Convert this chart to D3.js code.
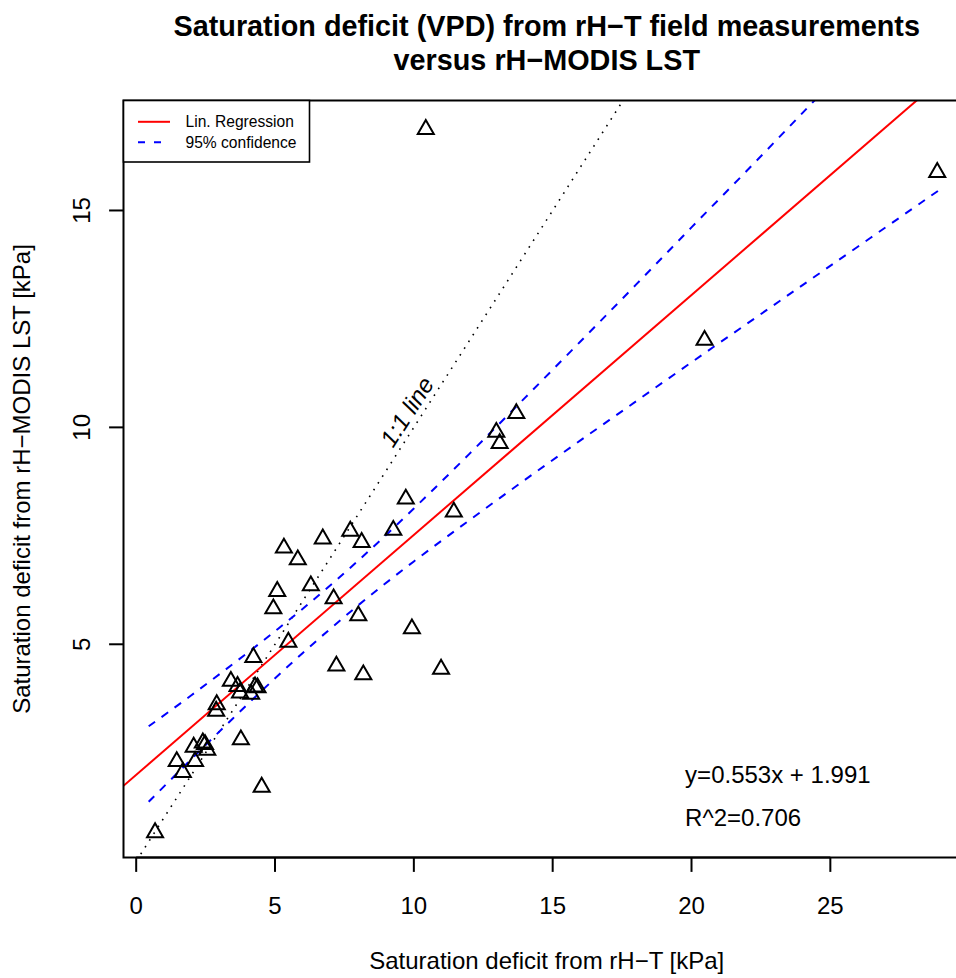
<!DOCTYPE html>
<html><head><meta charset="utf-8">
<script src="https://cdn.jsdelivr.net/npm/d3@7"></script>
<style>body{margin:0;background:#fff}svg{display:block}text{font-family:"Liberation Sans",Arial,Helvetica,sans-serif}</style>
</head><body><div id="chart"></div>
<script>
// ---- data ----
const fieldVPD = [10.43, 28.85, 20.47, 13.69, 12.97, 13.09, 9.71, 11.44, 9.26, 7.71, 6.72, 8.12, 5.32, 5.82, 6.29, 5.08, 7.11, 4.94, 8.00, 9.93, 5.48, 4.22, 7.21, 10.98, 8.18, 3.41, 3.65, 3.74, 4.28, 4.37, 4.14, 2.90, 2.88, 3.77, 4.52, 2.07, 2.40, 2.48, 2.56, 2.12, 1.46, 1.68, 0.68];
const modisVPD = [16.87, 15.88, 12.01, 10.32, 9.89, 9.63, 8.35, 8.05, 7.63, 7.61, 7.43, 7.35, 7.22, 6.95, 6.35, 6.22, 6.05, 5.82, 5.66, 5.36, 5.05, 4.70, 4.50, 4.43, 4.30, 4.15, 4.03, 3.88, 4.02, 4.00, 3.85, 3.61, 3.46, 2.80, 1.71, 2.63, 2.73, 2.69, 2.56, 2.30, 2.30, 2.05, 0.66];
const fitSlope = 0.553, fitIntercept = 1.991, rSquared = 0.706;
const bandX     = [0.45, 2, 4, 6, 8, 10, 12, 14, 16, 18, 20, 22, 24, 26, 28, 29.1];
const bandUpper = [3.11, 3.83, 4.80, 5.82, 6.93, 8.13, 9.39, 10.68, 11.98, 13.29, 14.61, 15.92, 17.25, 18.57, 19.89, 20.62];
const bandLower = [1.37, 2.36, 3.61, 4.80, 5.90, 6.91, 7.86, 8.79, 9.70, 10.60, 11.50, 12.39, 13.28, 14.17, 15.06, 15.55];
const xTicks = [0, 5, 10, 15, 20, 25];
const yTicks = [5, 10, 15];
const titleLines = ["Saturation deficit (VPD) from rH\u2212T field measurements", "versus rH\u2212MODIS LST"];
const xTitle = "Saturation deficit from rH\u2212T [kPa]";
const yTitle = "Saturation deficit from rH\u2212MODIS LST [kPa]";
const legendLabels = ["Lin. Regression", "95% confidence"];

// ---- layout ----
const W = 956, H = 978;
const L = 123.5, R = 970, T = 100.5, B = 857.5;
const x = d3.scaleLinear().domain([-0.457, 30.03]).range([L, R]);
const y = d3.scaleLinear().domain([0.085, 17.535]).range([B, T]);

const svg = d3.select("#chart").append("svg").attr("width", W).attr("height", H);
svg.append("defs").append("clipPath").attr("id", "clip")
  .append("rect").attr("x", L).attr("y", T).attr("width", R - L).attr("height", B - T);
const plot = svg.append("g").attr("clip-path", "url(#clip)");

// 1:1 line
const xd = x.domain();
plot.append("path")
  .attr("d", d3.line()([[x(xd[0]), y(xd[0])], [x(xd[1]), y(xd[1])]]))
  .attr("stroke", "#000").attr("stroke-width", 1.6).attr("stroke-dasharray", "1.6 6.4").attr("fill", "none");

// regression line
plot.append("path")
  .attr("d", d3.line()(xd.map(v => [x(v), y(fitSlope * v + fitIntercept)])))
  .attr("stroke", "#ff0000").attr("stroke-width", 2).attr("fill", "none");

// confidence bands
const bandLine = d3.line().x(d => x(d[0])).y(d => y(d[1])).curve(d3.curveNatural);
[bandUpper, bandLower].forEach(arr => {
  plot.append("path")
    .attr("d", bandLine(bandX.map((v, i) => [v, arr[i]])))
    .attr("stroke", "#0000ff").attr("stroke-width", 2).attr("stroke-dasharray", "8 8").attr("fill", "none");
});

// points (R pch=2 triangles)
const s0 = 5.95, rT = 1.5551 * s0, ycT = 0.7776 * s0, xcT = 1.3468 * s0;
plot.selectAll("path.pt").data(fieldVPD.map((v, i) => [v, modisVPD[i]])).join("path")
  .attr("class", "pt")
  .attr("d", d => {
    const px = x(d[0]), py = y(d[1]);
    return `M${px},${py - rT}L${px + xcT},${py + ycT}L${px - xcT},${py + ycT}Z`;
  })
  .attr("fill", "none").attr("stroke", "#000").attr("stroke-width", 2);

// box
svg.append("rect").attr("x", L).attr("y", T).attr("width", R - L).attr("height", B - T)
  .attr("fill", "none").attr("stroke", "#000").attr("stroke-width", 2);

// x axis
const gx = svg.append("g");
gx.append("line").attr("x1", x(xTicks[0])).attr("x2", x(xTicks[xTicks.length - 1]))
  .attr("y1", B).attr("y2", B).attr("stroke", "#000").attr("stroke-width", 2);
xTicks.forEach(t => {
  gx.append("line").attr("x1", x(t)).attr("x2", x(t)).attr("y1", B).attr("y2", B + 14.4)
    .attr("stroke", "#000").attr("stroke-width", 2);
  gx.append("text").attr("x", x(t)).attr("y", 913.5).attr("text-anchor", "middle")
    .attr("font-size", 24).text(t);
});
// y axis
const gy = svg.append("g");
yTicks.forEach(t => {
  gy.append("line").attr("x1", L).attr("x2", L - 14.4).attr("y1", y(t)).attr("y2", y(t))
    .attr("stroke", "#000").attr("stroke-width", 2);
  gy.append("text").attr("transform", `translate(89.5,${y(t)}) rotate(-90)`)
    .attr("text-anchor", "middle").attr("font-size", 24).text(t);
});

// axis titles
svg.append("text").attr("x", (L + R) / 2).attr("y", 969).attr("text-anchor", "middle")
  .attr("font-size", 24).text(xTitle);
svg.append("text").attr("transform", `translate(30,${(T + B) / 2}) rotate(-90)`)
  .attr("text-anchor", "middle").attr("font-size", 24).text(yTitle);

// title
titleLines.forEach((t, i) => {
  svg.append("text").attr("x", (L + R) / 2).attr("y", 35.5 + i * 34.8).attr("text-anchor", "middle")
    .attr("font-size", 28.8).attr("font-weight", "bold").text(t);
});

// annotations
svg.append("text").attr("transform", `translate(${x(9.75)},${y(10.36)}) rotate(-57.3)`)
  .attr("text-anchor", "middle").attr("dy", "0.35em").attr("font-size", 24)
  .attr("font-style", "italic").text("1:1 line");
svg.append("text").attr("x", x(19.77)).attr("y", y(2)).attr("dy", "0.35em")
  .attr("font-size", 24).text(`y=${fitSlope}x + ${fitIntercept}`);
svg.append("text").attr("x", x(19.77)).attr("y", y(1)).attr("dy", "0.35em")
  .attr("font-size", 24).text(`R^2=${rSquared}`);

// legend
const lg = svg.append("g");
lg.append("rect").attr("x", L).attr("y", T).attr("width", 309.5 - L).attr("height", 162 - T)
  .attr("fill", "#fff").attr("stroke", "#000").attr("stroke-width", 1.6);
const legendY = [121.8, 142.2];
const legendStyles = [{c: "#ff0000", d: null}, {c: "#0000ff", d: "7 9"}];
legendLabels.forEach((lab, i) => {
  const ln = lg.append("line").attr("x1", 138).attr("x2", 170).attr("y1", legendY[i]).attr("y2", legendY[i])
    .attr("stroke", legendStyles[i].c).attr("stroke-width", 2);
  if (legendStyles[i].d) ln.attr("stroke-dasharray", legendStyles[i].d);
  lg.append("text").attr("x", 185.5).attr("y", legendY[i]).attr("dy", "0.35em")
    .attr("font-size", 15.6).text(lab);
});
</script></body></html>
